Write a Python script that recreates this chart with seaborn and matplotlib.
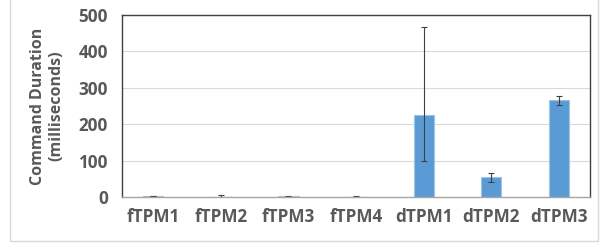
import matplotlib
matplotlib.use('Agg')
import matplotlib.pyplot as plt
import seaborn as sns
import pandas as pd
from matplotlib.patches import Rectangle

# data
tpms = ['fTPM1', 'fTPM2', 'fTPM3', 'fTPM4', 'dTPM1', 'dTPM2', 'dTPM3']
duration = [3, 1, 2, 1, 225, 55, 266]
err_low = [1, 1, 1, 0.5, 126, 13, 13]
err_high = [1, 4, 1, 0.5, 241, 12, 12]

df = pd.DataFrame({'tpm': tpms, 'duration': duration})

sns.set_style('white')
plt.rcParams['font.family'] = ['Open Sans', 'DejaVu Sans']

fig = plt.figure(figsize=(6, 2.46), dpi=100)
ax = fig.add_axes([0.203, 0.199, 0.781, 0.74])

sns.barplot(data=df, x='tpm', y='duration', color='#5B9BD5', width=0.3,
            edgecolor='#9DC3E6', linewidth=0.8, ax=ax, errorbar=None, saturation=1)
ax.errorbar(tpms, duration, yerr=[err_low, err_high], fmt='none',
            ecolor='#404040', elinewidth=0.8, capsize=2.5, capthick=0.8)

ax.set_ylim(0, 500)
ax.set_yticks([0, 100, 200, 300, 400, 500])
ax.yaxis.grid(True, color='#D9D9D9', linewidth=0.8)
ax.set_axisbelow(True)
for side in ['left', 'top', 'right']:
    ax.spines[side].set_color('#404040')
    ax.spines[side].set_linewidth(1.0)
ax.spines['bottom'].set_color('#A6A6A6')
ax.spines['bottom'].set_linewidth(1.0)

ax.tick_params(axis='both', length=0, labelsize=12.3, labelcolor='#595959')
ax.tick_params(axis='y', pad=10)
ax.tick_params(axis='x', pad=8)
for lbl in ax.get_xticklabels() + ax.get_yticklabels():
    lbl.set_fontweight('bold')
ax.set_xlabel('')
ax.set_ylabel('Command Duration\n(milliseconds)', fontsize=11.5, fontweight='bold',
              color='#595959', labelpad=10, linespacing=1.25)

# light outer chart border
fig.patches.append(Rectangle((0.017, 0.02), 0.98, 1.2, transform=fig.transFigure,
                             fill=False, edgecolor='#D9D9D9', linewidth=1.0))

fig.savefig('out.png', dpi=100)
